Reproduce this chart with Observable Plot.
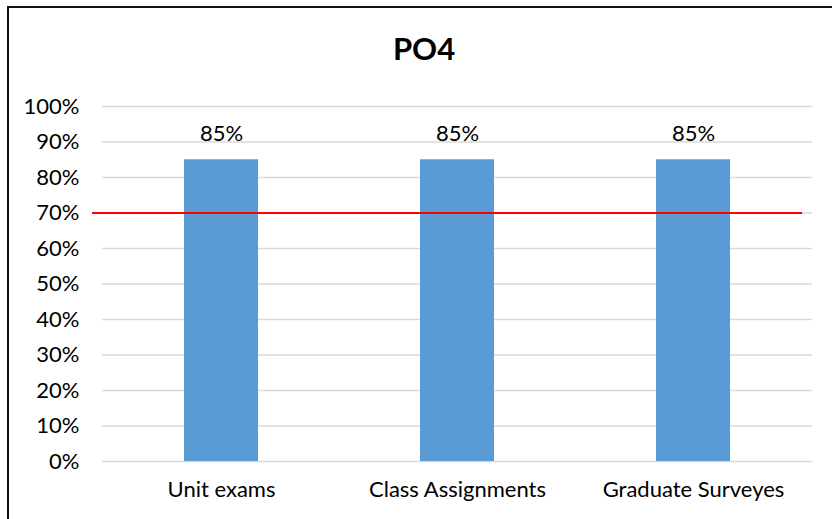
<!DOCTYPE html>
<html>
<head>
<meta charset="utf-8">
<script src="https://cdn.jsdelivr.net/npm/d3@7"></script>
<script src="https://cdn.jsdelivr.net/npm/@observablehq/plot@0.6"></script>
<style>
  html, body { margin: 0; padding: 0; background: #fff; overflow: hidden; }
  body { width: 832px; height: 519px; position: relative; font-family: Lato, "Open Sans", sans-serif; }
  #frame { position: absolute; left: 7px; top: 6px; width: 840px; height: 530px; border: 2px solid #111; box-sizing: border-box; }
  #title { position: absolute; left: 0; top: 28px; width: 848px; text-align: center; font-weight: bold; font-size: 31px; color: #000; line-height: 40px; }
  #chart { position: absolute; left: 0; top: 80px; }
</style>
</head>
<body>
<div id="frame"></div>
<div id="title">PO4</div>
<div id="chart"></div>
<script>
const categories = ["Unit exams", "Class Assignments", "Graduate Surveyes"];
const values = [85, 85, 85];
const target = 70;
const yTicks = [0, 10, 20, 30, 40, 50, 60, 70, 80, 90, 100];

const data = categories.map((c, i) => ({category: c, value: values[i]}));

const plot = Plot.plot({
  width: 832,
  height: 439,
  marginLeft: 102,
  marginRight: 20,
  marginTop: 26,
  marginBottom: 58,
  style: {fontFamily: "Lato, 'Open Sans', sans-serif", fontSize: "22px", color: "#000", background: "transparent"},
  x: {domain: categories, paddingInner: 0.687, paddingOuter: 0.3435, label: null},
  y: {domain: [0, 100], label: null},
  marks: [
    Plot.gridY(yTicks, {stroke: "#d9d9d9", strokeOpacity: 1, strokeWidth: 1.5}),
    Plot.axisY(yTicks, {tickSize: 0, tickPadding: 23, tickFormat: d => d + "%", fontSize: 22, label: null}),
    Plot.axisX({tickSize: 0, tickPadding: 20, fontSize: 22, label: null}),
    Plot.barY(data, {x: "category", y: "value", fill: "#5B9BD5"}),
    Plot.text(data, {x: "category", y: "value", text: d => d.value + "%", dy: -26, fontSize: 22, fill: "#000"}),
    Plot.ruleY([target], {stroke: "#ff0000", strokeWidth: 2, insetLeft: -10, insetRight: 10})
  ]
});
document.getElementById("chart").appendChild(plot);
</script>
</body>
</html>
